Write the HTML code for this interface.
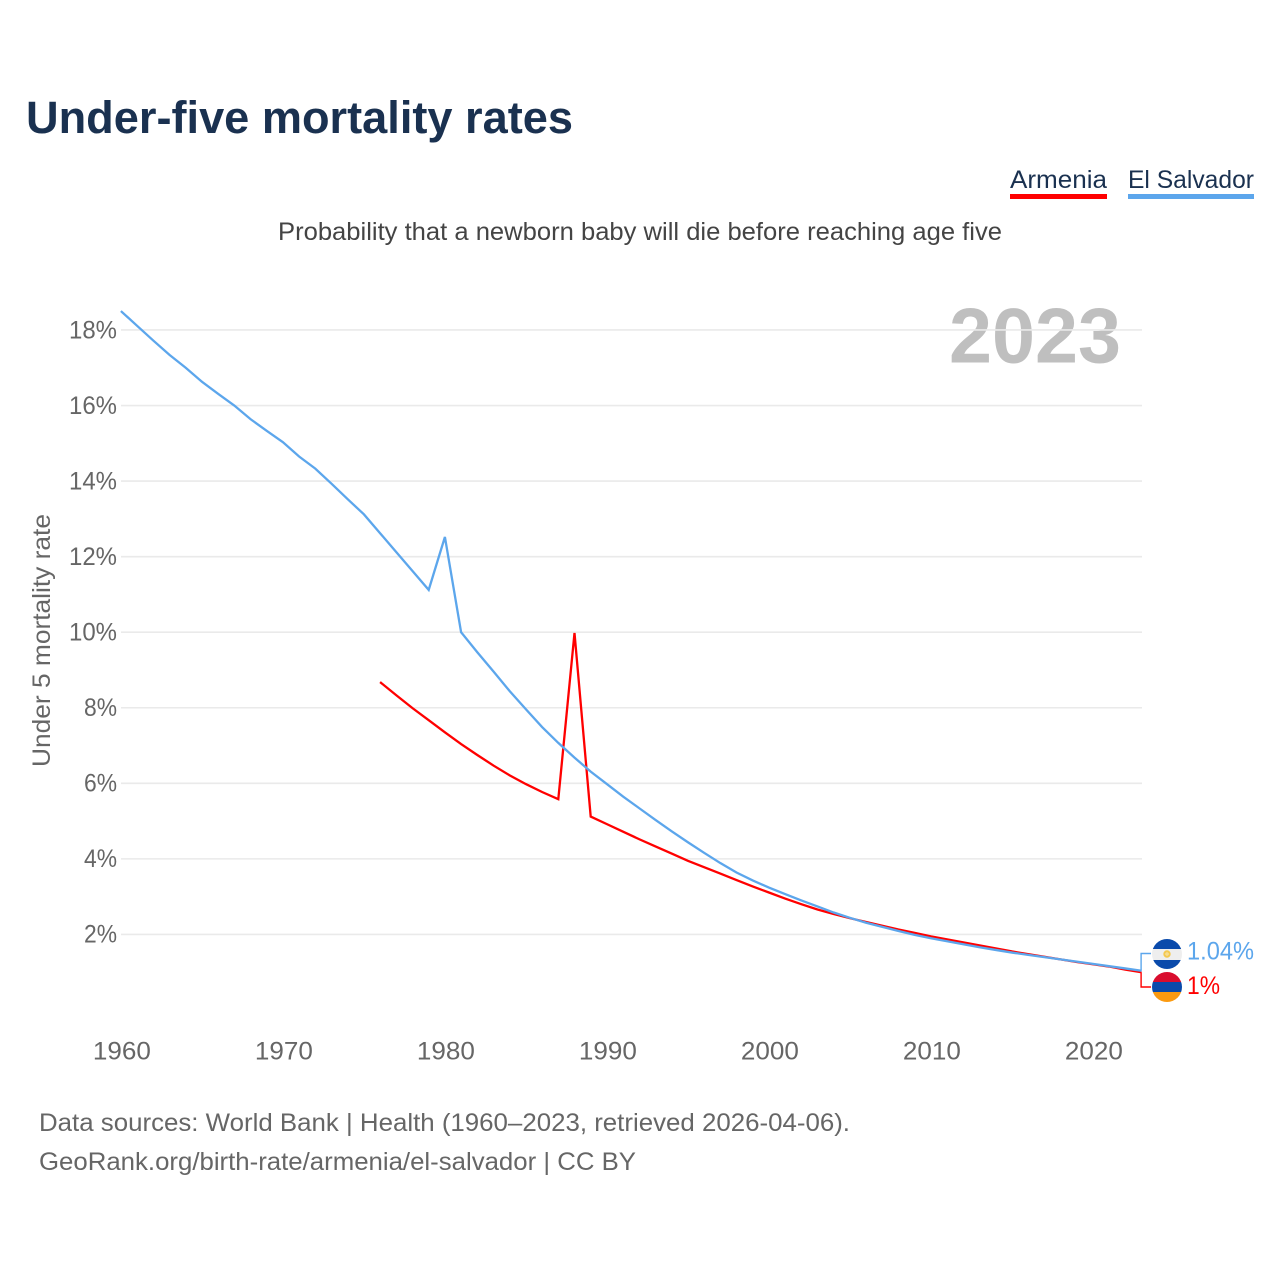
<!DOCTYPE html>
<html lang="en">
<head>
<meta charset="utf-8">
<title>Under-five mortality rates</title>
<style>
html,body{margin:0;padding:0;background:#fff}
svg{display:block}
text{font-family:"Liberation Sans",sans-serif}
</style>
</head>
<body>
<svg id="chart" width="1280" height="1280" viewBox="0 0 1280 1280" xmlns="http://www.w3.org/2000/svg">
  <defs>
    <clipPath id="clip-sv"><circle cx="1167" cy="954" r="15"/></clipPath>
    <clipPath id="clip-am"><circle cx="1167" cy="987" r="15"/></clipPath>
  </defs>
  <rect x="0" y="0" width="1280" height="1280" fill="#fff"/>
  <text x="26" y="133" font-size="45" font-weight="700" fill="#1a3150" textLength="547" lengthAdjust="spacingAndGlyphs">Under-five mortality rates</text>
  <text x="278" y="240" font-size="25" fill="#444" textLength="724" lengthAdjust="spacingAndGlyphs">Probability that a newborn baby will die before reaching age five</text>

  <g>
    <text x="1010" y="188" font-size="25" fill="#1a3150" textLength="97" lengthAdjust="spacingAndGlyphs">Armenia</text>
    <rect x="1010" y="194" width="97" height="5" fill="#ff0000"/>
  </g>
  <g>
    <text x="1128" y="188" font-size="25" fill="#1a3150" textLength="126" lengthAdjust="spacingAndGlyphs">El Salvador</text>
    <rect x="1128" y="194" width="126" height="5" fill="#5ca6ec"/>
  </g>

  <text x="1121" y="362.5" font-size="78" font-weight="700" fill="#bfbfbf" text-anchor="end" textLength="172" lengthAdjust="spacingAndGlyphs">2023</text>
  <g id="grid"></g>
  <g id="y-ticks"></g>
  <g id="x-ticks"></g>
  <text transform="translate(50,767) rotate(-90)" x="0" y="0" font-size="25" fill="#666" textLength="253" lengthAdjust="spacingAndGlyphs">Under 5 mortality rate</text>

  <g id="series"></g>

  <g id="end-labels"></g>

  <g clip-path="url(#clip-sv)">
    <rect x="1152" y="938" width="30" height="11" fill="#0a4aab"/>
    <rect x="1152" y="949" width="30" height="11" fill="#eeeeee"/>
    <rect x="1152" y="960" width="30" height="10" fill="#0a4aab"/>
    <circle cx="1167" cy="954" r="2.6" fill="none" stroke="#f4c94f" stroke-width="2.2"/>
    <circle cx="1167" cy="954" r="1.2" fill="#f8dc8a"/>
  </g>
  <g clip-path="url(#clip-am)">
    <rect x="1152" y="971" width="30" height="11" fill="#d90d2e"/>
    <rect x="1152" y="982" width="30" height="10" fill="#0a4aab"/>
    <rect x="1152" y="992" width="30" height="11" fill="#fb9a10"/>
  </g>

  <text x="39" y="1131" font-size="25" fill="#666" textLength="811" lengthAdjust="spacingAndGlyphs">Data sources: World Bank | Health (1960–2023, retrieved 2026-04-06).</text>
  <text x="39" y="1170" font-size="25" fill="#666" textLength="597" lengthAdjust="spacingAndGlyphs">GeoRank.org/birth-rate/armenia/el-salvador | CC BY</text>
</svg>
<script>
const yTickValues = [2, 4, 6, 8, 10, 12, 14, 16, 18];
const xTickYears = [1960, 1970, 1980, 1990, 2000, 2010, 2020];

const salvadorStartYear = 1960;
const salvadorValues = [
  18.5, 18.11, 17.72, 17.34, 17.0, 16.63, 16.31, 16.0, 15.64, 15.33,
  15.03, 14.65, 14.33, 13.93, 13.52, 13.12, 12.62, 12.12, 11.62, 11.12,
  12.52, 10.0, 9.47, 8.96, 8.44, 7.96, 7.49, 7.07, 6.68, 6.31,
  5.98, 5.65, 5.34, 5.03, 4.73, 4.44, 4.16, 3.89, 3.64, 3.43,
  3.24, 3.07, 2.9, 2.74, 2.58, 2.44, 2.31, 2.2, 2.09, 1.99,
  1.9, 1.82, 1.74, 1.66, 1.59, 1.52, 1.46, 1.4, 1.34, 1.28,
  1.22, 1.16, 1.1, 1.04
];

const armeniaStartYear = 1976;
const armeniaValues = [
  8.68, 8.33, 7.99, 7.67, 7.35, 7.04, 6.75, 6.47, 6.21, 5.98,
  5.77, 5.58, 9.98, 5.12, 4.92, 4.72, 4.52, 4.33, 4.14, 3.95,
  3.78, 3.61, 3.44, 3.27, 3.11, 2.95, 2.8, 2.66, 2.54, 2.43,
  2.33, 2.23, 2.13, 2.04, 1.95, 1.87, 1.79, 1.71, 1.63, 1.55,
  1.48, 1.41, 1.34, 1.27, 1.21, 1.15, 1.07, 1.0
];

const salvadorEndLabel = '1.04%';
const armeniaEndLabel = '1%';

const NS = 'http://www.w3.org/2000/svg';
function xScale(year) { return 120.9 + (year - 1960) * 16.2; }
function yScale(v) { return 1010 - v * 37.78; }
function make(tag, attrs, parent) {
  const el = document.createElementNS(NS, tag);
  for (const k in attrs) el.setAttribute(k, attrs[k]);
  parent.appendChild(el);
  return el;
}
function linePoints(start, values) {
  return values.map(function (v, i) {
    return xScale(start + i).toFixed(2) + ',' + yScale(v).toFixed(2);
  }).join(' ');
}

const grid = document.getElementById('grid');
const yTicks = document.getElementById('y-ticks');
const xTicks = document.getElementById('x-ticks');
const series = document.getElementById('series');
const endLabels = document.getElementById('end-labels');

yTickValues.forEach(function (v) {
  const gl = make('line', {x1: 121, x2: 1142, y1: yScale(v), y2: yScale(v), stroke: '#eaeaea', 'stroke-width': 1.6}, grid);
  
  
  const label = v + '%';
  const t = make('text', {x: 117, y: yScale(v) + 8.3, 'font-size': 25, fill: '#666', 'text-anchor': 'end', textLength: label.length * 15 + 3, lengthAdjust: 'spacingAndGlyphs'}, yTicks);
  
  
  t.textContent = label;
});

xTickYears.forEach(function (year) {
  const t = make('text', {x: xScale(year) + 1, y: 1059.5, 'font-size': 25, fill: '#666', 'text-anchor': 'middle', textLength: 58, lengthAdjust: 'spacingAndGlyphs'}, xTicks);
  
  
  t.textContent = year;
});

const armeniaLine = make('polyline', {points: linePoints(armeniaStartYear, armeniaValues), fill: 'none', stroke: '#ff0000', 'stroke-width': 2.3, 'stroke-linejoin': 'miter'}, series);



const salvadorLine = make('polyline', {points: linePoints(salvadorStartYear, salvadorValues), fill: 'none', stroke: '#5ca6ec', 'stroke-width': 2.3, 'stroke-linejoin': 'miter'}, series);



const lastYear = 2023;
const salvadorLast = salvadorValues[salvadorValues.length - 1];
const armeniaLast = armeniaValues[armeniaValues.length - 1];

const salvadorConnector = make('polyline', {points: [(xScale(lastYear) - 0.4) + ',' + yScale(salvadorLast), (xScale(lastYear) - 0.4) + ',953.5', '1151,953.5'].join(' '), fill: 'none', stroke: '#5ca6ec', 'stroke-width': 1.4}, endLabels);



const armeniaConnector = make('polyline', {points: [(xScale(lastYear) - 0.4) + ',' + yScale(armeniaLast), (xScale(lastYear) - 0.4) + ',987', '1151,987'].join(' '), fill: 'none', stroke: '#ff0000', 'stroke-width': 1.4}, endLabels);



const salvadorText = make('text', {x: 1187, y: 959.5, 'font-size': 25, fill: '#5ca6ec', textLength: 67, lengthAdjust: 'spacingAndGlyphs'}, endLabels);


salvadorText.textContent = salvadorEndLabel;

const armeniaText = make('text', {x: 1187, y: 994, 'font-size': 25, fill: '#ff0000', textLength: 33, lengthAdjust: 'spacingAndGlyphs'}, endLabels);


armeniaText.textContent = armeniaEndLabel;
</script>
</body>
</html>
